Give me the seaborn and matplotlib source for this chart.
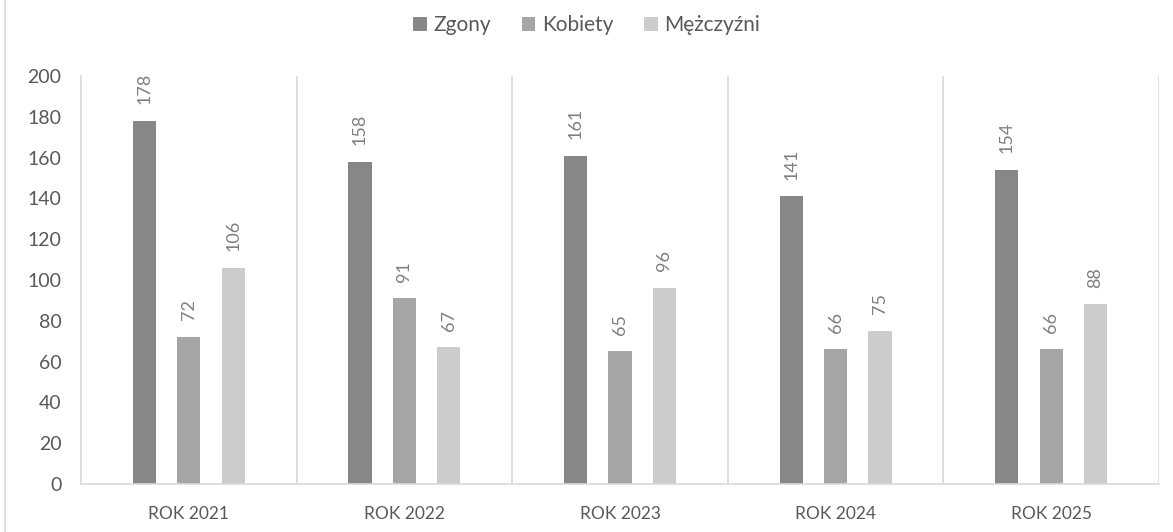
import matplotlib
matplotlib.use("Agg")
import matplotlib.pyplot as plt
import seaborn as sns
import pandas as pd
from matplotlib.lines import Line2D
from matplotlib.patches import Patch

categories = ["ROK 2021", "ROK 2022", "ROK 2023", "ROK 2024", "ROK 2025"]
series_names = ["Zgony", "Kobiety", "Mężczyźni"]
zgony = [178, 158, 161, 141, 154]
kobiety = [72, 91, 65, 66, 66]
mezczyzni = [106, 67, 96, 75, 88]
yticks = [0, 20, 40, 60, 80, 100, 120, 140, 160, 180, 200]
colors = ["#878787", "#a5a5a5", "#cccccc"]

rows = []
for name, vals in zip(series_names, [zgony, kobiety, mezczyzni]):
    for c, v in zip(categories, vals):
        rows.append({"cat": c, "series": name, "value": v})
df = pd.DataFrame(rows)

sns.set_theme(style="white")
plt.rcParams["font.family"] = ["Lato", "DejaVu Sans"]

fig = plt.figure(figsize=(11.73, 5.32), dpi=100)
ax = fig.add_axes([81/1173, 1-484/532, (1159-81)/1173, (484-76)/532])

sns.barplot(data=df, x="cat", y="value", hue="series", order=categories,
            hue_order=series_names, palette=colors, width=0.618, gap=0.48,
            saturation=1, ax=ax, legend=False, edgecolor="none")

txtc = "#595959"
for cont in ax.containers:
    ax.bar_label(cont, rotation=90, padding=12, fontsize=13, color="#7f7f7f")

ax.set_xlim(-0.5, len(categories) - 0.5)
ax.set_ylim(0, 200)
ax.set_yticks(yticks)
ax.set_yticklabels([str(t) for t in yticks], fontsize=14, color=txtc)
ax.set_xlabel("")
ax.set_ylabel("")
ax.tick_params(axis="x", length=0, labelsize=12.5, labelcolor=txtc, pad=16)
ax.tick_params(axis="y", length=6, width=1.2, color="#d9d9d9", pad=8)
ax.set_xticks(range(len(categories)))
ax.set_xticklabels(categories)
bounds = [i - 0.5 for i in range(len(categories) + 1)]
ax.set_xticks(bounds, minor=True)
ax.tick_params(axis="x", which="minor", length=7, width=1.2, color="#d9d9d9")
for b in bounds[1:]:
    ax.axvline(b, color="#d9d9d9", lw=1.2, zorder=0)

for s in ["top", "right"]:
    ax.spines[s].set_visible(False)
for s in ["left", "bottom"]:
    ax.spines[s].set_color("#d9d9d9")
    ax.spines[s].set_linewidth(1.2)

handles = [Patch(facecolor=c, edgecolor="none") for c in colors]
fig.legend(handles, series_names, loc="center", bbox_to_anchor=(0.5, 1-25/532),
           ncol=3, frameon=False, fontsize=15, handlelength=0.65, handleheight=0.65,
           handletextpad=0.3, columnspacing=1.5, labelcolor=txtc)

fig.add_artist(Line2D([5/1173, 5/1173], [0, 1], color="#d9d9d9", lw=1.2))

fig.savefig("out.png", dpi=100, facecolor="white")
